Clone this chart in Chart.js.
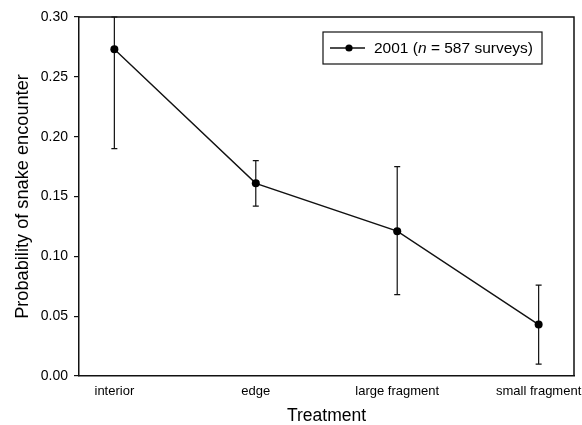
<!DOCTYPE html>
<html>
<head>
<meta charset="utf-8">
<script src="https://cdn.jsdelivr.net/npm/chart.js@4/dist/chart.umd.min.js"></script>
<style>
  html, body { margin: 0; padding: 0; background: #fff; }
  #wrap { width: 582px; height: 425px; position: relative; }
</style>
</head>
<body>
<div id="wrap"><canvas id="c" width="582" height="425"></canvas></div>
<script>
const categories = ['interior', 'edge', 'large fragment', 'small fragment'];
const probability = [0.273, 0.161, 0.121, 0.043];
const upperCI = [0.300, 0.180, 0.175, 0.076];
const lowerCI = [0.190, 0.142, 0.068, 0.010];
const yTicks = [0.00, 0.05, 0.10, 0.15, 0.20, 0.25, 0.30];
const seriesLabel = ['2001 (', 'n', ' = 587 surveys)'];

const FONT = "'Liberation Sans', Arial, Helvetica, sans-serif";

const errorBars = {
  id: 'errorBars',
  beforeDatasetsDraw(chart) {
    const ctx = chart.ctx, xs = chart.scales.x, ys = chart.scales.y;
    ctx.save();
    ctx.strokeStyle = '#111';
    ctx.lineWidth = 1.2;
    const cap = 3;
    categories.forEach((c, i) => {
      const x = xs.getPixelForValue(i);
      const yh = ys.getPixelForValue(upperCI[i]);
      const yl = ys.getPixelForValue(lowerCI[i]);
      ctx.beginPath();
      ctx.moveTo(x, yh); ctx.lineTo(x, yl);
      ctx.moveTo(x - cap, yh); ctx.lineTo(x + cap, yh);
      ctx.moveTo(x - cap, yl); ctx.lineTo(x + cap, yl);
      ctx.stroke();
    });
    ctx.restore();
  }
};

const frame = {
  id: 'frame',
  afterDraw(chart) {
    const ctx = chart.ctx, a = chart.chartArea;
    ctx.save();
    ctx.strokeStyle = '#111';
    ctx.lineWidth = 1.5;
    ctx.beginPath();
    ctx.moveTo(a.left, a.top); ctx.lineTo(a.right, a.top); ctx.lineTo(a.right, a.bottom);
    ctx.stroke();

    // legend box
    const bx = a.right - 251, by = a.top + 15, bw = 219, bh = 32;
    ctx.lineWidth = 1.2;
    ctx.strokeRect(bx, by, bw, bh);
    const cy = by + bh / 2;
    ctx.lineWidth = 1.3;
    ctx.beginPath();
    ctx.moveTo(bx + 7, cy); ctx.lineTo(bx + 42, cy);
    ctx.stroke();
    ctx.fillStyle = '#000';
    ctx.beginPath();
    ctx.arc(bx + 26, cy, 3.6, 0, Math.PI * 2);
    ctx.fill();
    ctx.textBaseline = 'middle';
    ctx.textAlign = 'left';
    let tx = bx + 51;
    const fonts = ['15.5px ' + FONT, 'italic 15.5px ' + FONT, '15.5px ' + FONT];
    seriesLabel.forEach((t, k) => {
      ctx.font = fonts[k];
      ctx.fillText(t, tx, cy + 1);
      tx += ctx.measureText(t).width;
    });
    ctx.restore();
  }
};

new Chart(document.getElementById('c'), {
  type: 'line',
  data: {
    datasets: [{
      label: seriesLabel.join(''),
      data: categories.map((c, i) => ({ x: i, y: probability[i] })),
      borderColor: '#111',
      borderWidth: 1.4,
      backgroundColor: '#000',
      pointRadius: 4,
      pointBackgroundColor: '#000',
      pointBorderColor: '#000',
      pointBorderWidth: 0,
      tension: 0
    }]
  },
  options: {
    responsive: false,
    animation: false,
    events: [],
    layout: { padding: { top: 17, right: 8, left: 0, bottom: 0 } },
    plugins: { legend: { display: false }, tooltip: { enabled: false } },
    scales: {
      x: {
        type: 'linear',
        min: -0.25,
        max: 3.25,
        afterBuildTicks(scale) {
          scale.ticks = categories.map((c, i) => ({ value: i }));
        },
        afterFit(scale) {
          scale.height = 49;
          scale.paddingLeft = 0;
          scale.paddingRight = 0;
        },
        grid: { display: true, drawOnChartArea: false, drawTicks: false, color: 'transparent' },
        border: { display: true, color: '#111', width: 1.5 },
        ticks: {
          autoSkip: false,
          maxRotation: 0,
          padding: 8,
          color: '#000',
          font: { family: FONT, size: 13 },
          callback: (v) => categories[v]
        },
        title: {
          display: true,
          text: 'Treatment',
          color: '#000',
          font: { family: FONT, size: 17.5, lineHeight: 1 },
          padding: { top: 0, bottom: 0 }
        }
      },
      y: {
        min: 0,
        max: 0.3,
        afterBuildTicks(scale) {
          scale.ticks = yTicks.map(v => ({ value: v }));
        },
        afterFit(scale) {
          scale.width = 79;
          scale.paddingTop = 0;
          scale.paddingBottom = 0;
        },
        grid: { drawOnChartArea: false, drawTicks: true, tickLength: 5, color: '#111', lineWidth: 1.2 },
        border: { display: true, color: '#111', width: 1.5 },
        ticks: {
          padding: 6,
          color: '#000',
          font: { family: FONT, size: 14 },
          callback: (v) => Number(v).toFixed(2)
        },
        title: {
          display: true,
          text: 'Probability of snake encounter',
          color: '#000',
          font: { family: FONT, size: 18.2, lineHeight: 1 },
          padding: { top: 14, bottom: 0 }
        }
      }
    }
  },
  plugins: [errorBars, frame]
});
</script>
</body>
</html>
